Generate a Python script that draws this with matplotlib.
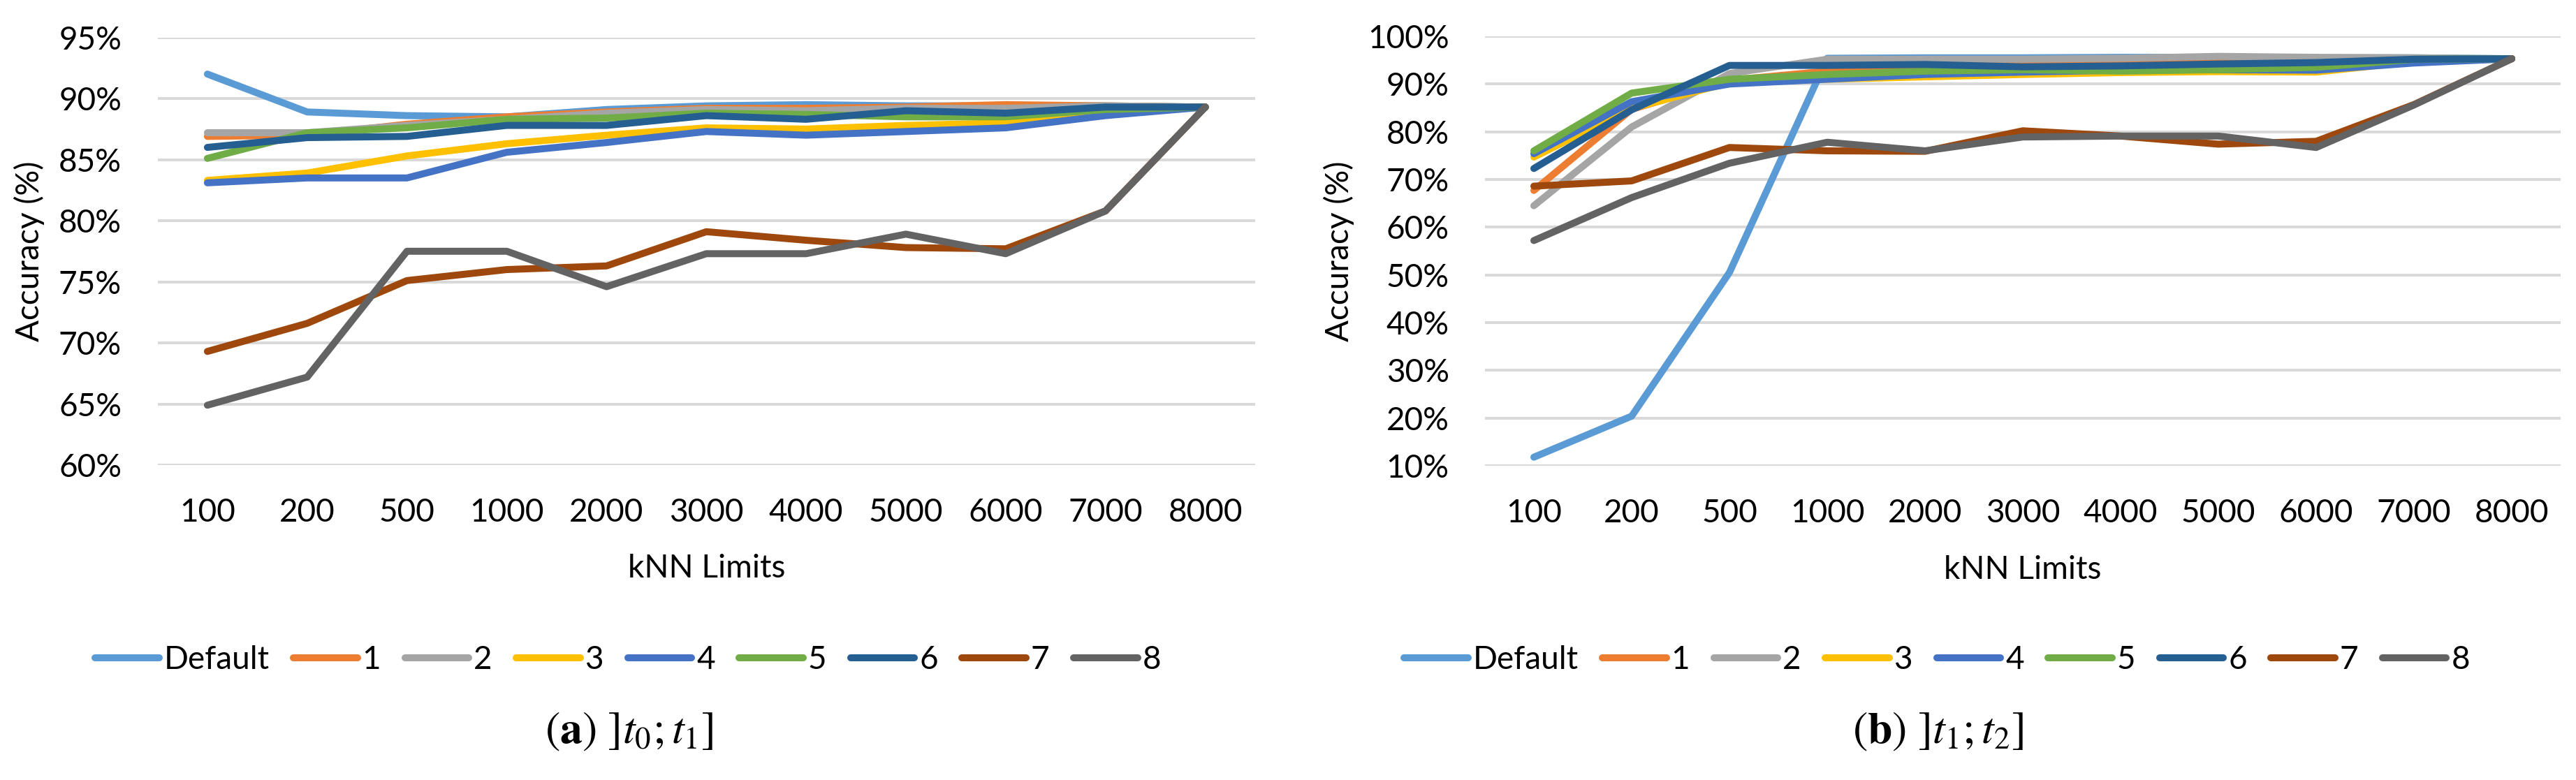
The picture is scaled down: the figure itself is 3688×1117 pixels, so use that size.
import matplotlib
matplotlib.use("Agg")
import matplotlib.pyplot as plt
from matplotlib.ticker import PercentFormatter

# kNN limit categories (shared by both panels)
knn_limits = ["100", "200", "500", "1000", "2000", "3000", "4000", "5000", "6000", "7000", "8000"]
series_names = ["Default", "1", "2", "3", "4", "5", "6", "7", "8"]
colors = ["#5B9BD5", "#ED7D31", "#A5A5A5", "#FFC000", "#4472C4",
          "#70AD47", "#255E91", "#9E480E", "#636363"]

# (a) ]t0;t1] accuracy in %
a_default = [92.0, 88.9, 88.6, 88.5, 89.1, 89.4, 89.5, 89.4, 89.4, 89.4, 89.3]
a_1 = [86.9, 87.0, 87.9, 88.5, 88.9, 89.2, 89.2, 89.3, 89.5, 89.4, 89.3]
a_2 = [87.2, 87.2, 87.8, 88.3, 88.8, 89.1, 89.0, 89.2, 89.2, 89.4, 89.3]
a_3 = [83.3, 83.9, 85.3, 86.3, 87.0, 87.6, 87.5, 87.8, 88.0, 88.8, 89.3]
a_4 = [83.1, 83.5, 83.5, 85.6, 86.4, 87.3, 87.0, 87.3, 87.6, 88.6, 89.3]
a_5 = [85.1, 87.2, 87.6, 88.3, 88.4, 88.8, 88.7, 88.5, 88.5, 89.1, 89.3]
a_6 = [86.0, 86.8, 86.9, 87.8, 87.8, 88.6, 88.3, 89.0, 88.8, 89.3, 89.3]
a_7 = [69.3, 71.6, 75.1, 76.0, 76.3, 79.1, 78.4, 77.8, 77.7, 80.8, 89.3]
a_8 = [64.9, 67.2, 77.5, 77.5, 74.6, 77.3, 77.3, 78.9, 77.3, 80.8, 89.3]

# (b) ]t1;t2] accuracy in %
b_default = [11.8, 20.4, 50.5, 95.4, 95.5, 95.5, 95.6, 95.6, 95.5, 95.5, 95.3]
b_1 = [67.7, 84.7, 90.8, 92.7, 93.5, 94.0, 94.8, 95.0, 95.2, 95.3, 95.3]
b_2 = [64.5, 81.0, 92.2, 95.2, 95.2, 95.2, 95.4, 95.8, 95.6, 95.5, 95.3]
b_3 = [74.7, 84.9, 90.3, 91.0, 91.5, 92.0, 92.4, 92.6, 92.5, 94.7, 95.3]
b_4 = [75.4, 86.3, 90.0, 91.0, 92.0, 92.5, 92.9, 93.0, 92.9, 94.4, 95.3]
b_5 = [76.0, 88.1, 91.0, 92.0, 92.7, 93.0, 92.7, 93.0, 93.5, 95.2, 95.3]
b_6 = [72.3, 84.6, 93.9, 93.9, 94.1, 93.6, 93.8, 94.2, 94.5, 95.2, 95.3]
b_7 = [68.6, 69.7, 76.7, 76.0, 75.9, 80.2, 79.1, 77.4, 78.0, 85.7, 95.3]
b_8 = [57.2, 66.2, 73.4, 77.8, 76.0, 78.9, 79.1, 79.1, 76.7, 85.6, 95.3]

panel_a = [a_default, a_1, a_2, a_3, a_4, a_5, a_6, a_7, a_8]
panel_b = [b_default, b_1, b_2, b_3, b_4, b_5, b_6, b_7, b_8]

W, H = 3688, 1117
fig = plt.figure(figsize=(W / 100, H / 100), dpi=100)
plt.rcParams["mathtext.fontset"] = "stix"

tick_font = dict(family="Lato", size=33)


def draw_panel(rect, data, ylim, step, ylabel_x, legend_xy, caption, caption_xy):
    ax = fig.add_axes(rect)
    x = list(range(len(knn_limits)))
    lines = []
    for vals, name, c in zip(data, series_names, colors):
        ln, = ax.plot(x, vals, color=c, lw=7.2, label=name,
                      solid_capstyle="round", solid_joinstyle="round")
        lines.append(ln)
    ax.set_xlim(-0.5, len(knn_limits) - 0.5)
    ax.set_ylim(*ylim)
    ax.set_yticks(range(ylim[0], ylim[1] + 1, step))
    ax.yaxis.set_major_formatter(PercentFormatter(decimals=0))
    ax.set_xticks(x)
    ax.set_xticklabels(knn_limits)
    for lab in ax.get_xticklabels() + ax.get_yticklabels():
        lab.set_fontfamily("Lato")
        lab.set_fontsize(33)
    ax.tick_params(length=0)
    ax.tick_params(axis="y", pad=37)
    ax.tick_params(axis="x", pad=34)
    ax.yaxis.grid(True, color="#D9D9D9", lw=2.9)
    ax.set_axisbelow(True)
    for s in ax.spines.values():
        s.set_visible(False)

    ax.set_xlabel("kNN Limits", **tick_font)
    ax.xaxis.set_label_coords(0.5, -0.242)
    ax.xaxis.label.set_va("center")
    ax.set_ylabel("Accuracy (%)", **tick_font)
    ax.yaxis.set_label_coords(ylabel_x, 0.5)
    ax.yaxis.label.set_va("center")

    fig.legend(handles=lines, loc="center", bbox_to_anchor=legend_xy, ncol=9,
               frameon=False, prop=dict(family="Lato", size=33),
               handlelength=2.0, handletextpad=0.15, columnspacing=0.75,
               borderaxespad=0)
    fig.text(caption_xy[0], caption_xy[1], caption, ha="center", va="center",
             fontsize=46, family="Liberation Serif")
    return ax


draw_panel([225.5 / W, 1 - 666 / H, 1571.5 / W, 612.4 / H], panel_a, (60, 95), 5,
           -0.117, (899 / W, 1 - 945 / H),
           r"$(\mathbf{a})\ ]t_0;t_1]$", (901 / W, 1 - 1048 / H))
draw_panel([2126 / W, 1 - 667 / H, 1540 / W, 615 / H], panel_b, (10, 100), 10,
           -0.136, (2773 / W, 1 - 945 / H),
           r"$(\mathbf{b})\ ]t_1;t_2]$", (2775 / W, 1 - 1048 / H))

fig.savefig("out.png", dpi=100, facecolor="white")
